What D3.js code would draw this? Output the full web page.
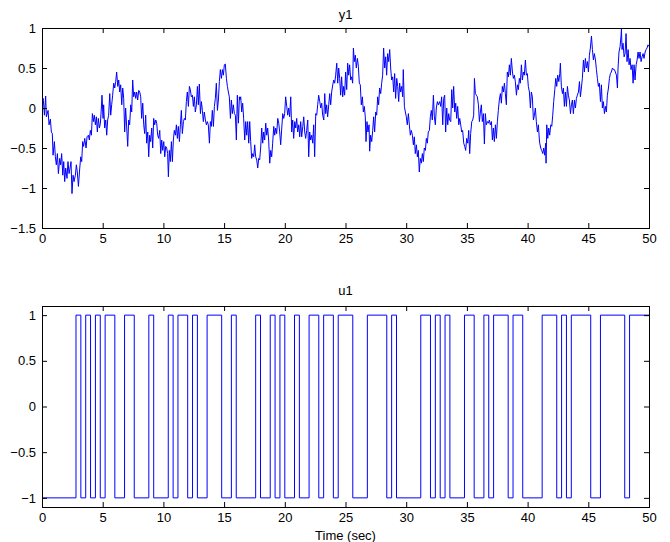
<!DOCTYPE html>
<html>
<head>
<meta charset="utf-8">
<script src="https://cdn.jsdelivr.net/npm/d3@7"></script>
<style>
	body { margin: 0; background: #fff; }
	svg text { font-family: "Liberation Sans", Arial, Helvetica, sans-serif; font-size: 13px; fill: #000; }
</style>
</head>
<body>
<div id="app"></div>
<script>
// tick labels
const timeTicks = [0, 5, 10, 15, 20, 25, 30, 35, 40, 45, 50];
const y1Ticks = [1, 0.5, 0, -0.5, -1, -1.5];
const u1Ticks = [1, 0.5, 0, -0.5, -1];

// u1 : level at t = 0, then the times where it flips
const u1Start = -1;
const u1Switch = [2.8, 3.2, 3.6, 4.0, 4.4, 4.8, 5.2, 6.0, 6.8, 7.6, 8.8, 9.2, 10.4, 10.8, 11.2, 12.0, 12.4, 12.8,
	13.6, 14.8, 15.6, 16.0, 17.6, 18.0, 18.8, 19.2, 19.6, 20.0, 20.8, 21.2, 22.0, 22.8, 23.2, 24.0, 24.4, 25.6,
	26.8, 28.4, 28.8, 29.2, 31.2, 32.0, 32.4, 32.8, 33.2, 33.6, 34.8, 35.6, 36.4, 36.8, 37.2, 38.4, 38.8, 39.6,
	41.2, 42.4, 42.8, 43.2, 43.6, 45.2, 46.0, 48.0, 48.4];

// y1 : [time, value]
const y1 = [
	[0.00, 0.08], [0.10, 0.12], [0.20, -0.09], [0.30, 0.15], [0.36, -0.11], [0.50, -0.03], [0.58, -0.21], [0.69, -0.14],
	[0.77, -0.30], [0.85, -0.32], [0.91, -0.59], [1.02, -0.42], [1.10, -0.61], [1.18, -0.71], [1.27, -0.57], [1.35, -0.82],
	[1.46, -0.63], [1.54, -0.71], [1.62, -0.57], [1.71, -0.84], [1.79, -0.67], [1.87, -0.92], [1.95, -0.75], [2.06, -0.88],
	[2.14, -0.67], [2.23, -0.82], [2.31, -0.75], [2.39, -0.67], [2.47, -1.07], [2.56, -0.84], [2.64, -0.92], [2.75, -0.84],
	[2.83, -0.71], [2.91, -0.80], [3.00, -0.98], [3.11, -0.75], [3.19, -0.61], [3.27, -0.67], [3.35, -0.42], [3.43, -0.48],
	[3.52, -0.38], [3.63, -0.50], [3.71, -0.36], [3.82, -0.34], [3.90, -0.40], [3.98, -0.28], [4.07, -0.34], [4.15, -0.07],
	[4.23, -0.17], [4.31, -0.09], [4.40, -0.21], [4.48, -0.11], [4.56, -0.30], [4.64, -0.13], [4.73, -0.25], [4.81, -0.19],
	[4.89, 0.00], [4.94, 0.16], [5.03, -0.13], [5.08, 0.04], [5.16, -0.25], [5.25, -0.15], [5.33, -0.34], [5.41, -0.15],
	[5.49, -0.09], [5.58, 0.18], [5.66, -0.09], [5.74, 0.04], [5.82, 0.16], [5.91, 0.31], [5.99, 0.25], [6.07, 0.33],
	[6.15, 0.45], [6.24, 0.27], [6.32, 0.35], [6.40, 0.20], [6.48, 0.29], [6.57, 0.04], [6.65, 0.25], [6.73, 0.12],
	[6.81, -0.30], [6.89, 0.00], [6.98, -0.25], [7.06, -0.48], [7.14, -0.15], [7.22, -0.21], [7.31, 0.04], [7.39, -0.05],
	[7.47, 0.35], [7.55, 0.14], [7.64, 0.20], [7.72, 0.12], [7.80, 0.20], [7.88, 0.10], [7.97, 0.22],
	[8.05, 0.20], [8.13, 0.14], [8.21, -0.13], [8.30, 0.06], [8.38, -0.21], [8.46, -0.32], [8.54, -0.09], [8.62, -0.44],
	[8.71, -0.30], [8.79, -0.61], [8.87, -0.34], [8.95, -0.42], [9.04, -0.25], [9.12, -0.50], [9.20, -0.13], [9.28, -0.21],
	[9.37, -0.15], [9.45, -0.19], [9.53, -0.34], [9.61, -0.38], [9.70, -0.28], [9.78, -0.57], [9.86, -0.40], [9.94, -0.53],
	[10.03, -0.42], [10.11, -0.61], [10.19, -0.48], [10.27, -0.50], [10.35, -0.57], [10.41, -0.86], [10.49, -0.53], [10.57, -0.67],
	[10.66, -0.42], [10.74, -0.67], [10.82, -0.40], [10.90, -0.28], [10.99, -0.34], [11.07, -0.21], [11.15, -0.38], [11.23, -0.23],
	[11.32, -0.42], [11.40, -0.21], [11.48, -0.03], [11.56, -0.32], [11.65, -0.17], [11.73, -0.13], [11.81, -0.15], [11.89, 0.08],
	[11.97, 0.20], [12.06, 0.02], [12.14, 0.27], [12.22, 0.23], [12.30, 0.14], [12.39, 0.16], [12.47, 0.02], [12.55, 0.14],
	[12.63, -0.05], [12.72, 0.04], [12.80, 0.27], [12.88, 0.04], [12.96, 0.30], [13.05, -0.07], [13.13, 0.08], [13.21, -0.03],
	[13.29, -0.17], [13.37, -0.05], [13.46, -0.15], [13.54, -0.21], [13.62, -0.17], [13.70, -0.21], [13.79, -0.44], [13.87, -0.17],
	[13.95, -0.23], [14.03, -0.03], [14.12, -0.23], [14.20, 0.02], [14.28, 0.12], [14.36, 0.31], [14.45, -0.03], [14.53, 0.10],
	[14.61, 0.33], [14.69, 0.48], [14.78, 0.37], [14.86, 0.48], [14.94, 0.41], [15.02, 0.54], [15.10, 0.55], [15.19, 0.37],
	[15.27, 0.27], [15.35, 0.20], [15.43, 0.14], [15.52, -0.13], [15.60, 0.10], [15.68, -0.07], [15.76, 0.04], [15.85, -0.07],
	[15.93, -0.09], [16.01, -0.40], [16.09, 0.16], [16.18, -0.19], [16.26, 0.14],
	[16.29, 0.10], [16.37, 0.14], [16.45, -0.05], [16.53, 0.06], [16.61, -0.13], [16.70, -0.40], [16.78, -0.17], [16.86, -0.34],
	[16.94, -0.17], [17.03, -0.44], [17.11, -0.17], [17.19, -0.42], [17.27, -0.63], [17.36, -0.57], [17.44, -0.61], [17.52, -0.46],
	[17.60, -0.61], [17.69, -0.65], [17.77, -0.75], [17.85, -0.63], [17.93, -0.65], [18.01, -0.50], [18.10, -0.25], [18.18, -0.44],
	[18.26, -0.30], [18.34, -0.40], [18.43, -0.19], [18.51, -0.34], [18.59, -0.25], [18.67, -0.40], [18.76, -0.69], [18.84, -0.53],
	[18.92, -0.61], [19.00, -0.44], [19.09, -0.23], [19.17, -0.34], [19.25, -0.25], [19.33, -0.32], [19.42, -0.13], [19.50, -0.19],
	[19.58, -0.30], [19.66, -0.46], [19.75, -0.25], [19.83, -0.07], [19.91, -0.13], [19.99, -0.07], [20.07, 0.14], [20.16, 0.02],
	[20.24, -0.09], [20.32, 0.00], [20.40, -0.11], [20.49, 0.14], [20.57, -0.30], [20.65, -0.15], [20.73, -0.38], [20.82, -0.17],
	[20.90, -0.25], [20.98, -0.13], [21.06, -0.30], [21.15, -0.21], [21.23, -0.36], [21.31, -0.17], [21.39, -0.36], [21.48, -0.23],
	[21.56, -0.11], [21.64, -0.30], [21.72, -0.38], [21.80, -0.28], [21.89, -0.15], [21.97, -0.61], [22.05, -0.30], [22.13, -0.40],
	[22.22, -0.34], [22.30, -0.44], [22.38, -0.21], [22.46, -0.61], [22.55, -0.07], [22.63, -0.09], [22.71, 0.04], [22.79, 0.16],
	[22.88, 0.08], [22.96, 0.00], [23.04, 0.06], [23.12, -0.09], [23.21, -0.15], [23.29, 0.18], [23.37, -0.07], [23.45, 0.04],
	[23.53, -0.11], [23.62, 0.04], [23.70, 0.18], [23.78, 0.04], [23.86, 0.20], [23.95, 0.29], [24.03, 0.35], [24.11, 0.31],
	[24.19, 0.41], [24.28, 0.56], [24.36, 0.31], [24.44, 0.50],
	[24.52, 0.37], [24.60, 0.16], [24.68, 0.39], [24.77, 0.14], [24.85, 0.27], [24.93, 0.16], [25.01, 0.45], [25.10, 0.23],
	[25.18, 0.56], [25.26, 0.41], [25.34, 0.54], [25.43, 0.35], [25.51, 0.39], [25.59, 0.31], [25.65, 0.75], [25.73, 0.58],
	[25.81, 0.66], [25.89, 0.50], [25.98, 0.62], [26.06, 0.52], [26.14, 0.31], [26.22, 0.29], [26.30, 0.04], [26.39, 0.14],
	[26.47, -0.05], [26.55, 0.02], [26.63, -0.11], [26.69, -0.42], [26.77, -0.17], [26.85, -0.30], [26.94, -0.21], [26.99, -0.54],
	[27.07, -0.34], [27.16, -0.42], [27.24, -0.28], [27.32, -0.11], [27.40, -0.30], [27.49, -0.05], [27.57, -0.09], [27.65, 0.14],
	[27.73, 0.04], [27.81, 0.25], [27.90, 0.18], [27.98, 0.31], [28.06, 0.41], [28.14, 0.75], [28.23, 0.50], [28.31, 0.64],
	[28.39, 0.41], [28.47, 0.68], [28.56, 0.58], [28.64, 0.73], [28.72, 0.50], [28.80, 0.35], [28.89, 0.39], [28.97, 0.20],
	[29.05, 0.43], [29.13, 0.12], [29.22, 0.37], [29.30, 0.27], [29.38, 0.08], [29.46, 0.31], [29.54, 0.20], [29.63, 0.27],
	[29.71, 0.14], [29.76, 0.48], [29.85, 0.02], [29.93, -0.05], [30.01, -0.11], [30.09, -0.21], [30.18, -0.07], [30.26, -0.21],
	[30.34, -0.34], [30.42, -0.28], [30.51, -0.34], [30.59, -0.46], [30.67, -0.36], [30.75, -0.57], [30.84, -0.46], [30.92, -0.61],
	[31.00, -0.53], [31.08, -0.80], [31.16, -0.63], [31.25, -0.69], [31.33, -0.57], [31.41, -0.67], [31.49, -0.50], [31.58, -0.53],
	[31.66, -0.38], [31.74, -0.44], [31.82, -0.30], [31.91, -0.28], [31.99, -0.11], [32.07, -0.03], [32.15, -0.15], [32.24, 0.16],
	[32.32, -0.11], [32.40, -0.21], [32.48, 0.00], [32.57, 0.08], [32.65, 0.04],
	[32.76, 0.08], [32.84, 0.02], [32.92, 0.14], [33.01, -0.21], [33.09, 0.12], [33.17, 0.16], [33.25, -0.30], [33.34, 0.00],
	[33.42, -0.21], [33.50, -0.07], [33.58, -0.15], [33.67, -0.17], [33.75, 0.23], [33.83, 0.00], [33.91, 0.27], [34.00, -0.05],
	[34.08, 0.06], [34.16, -0.13], [34.24, 0.02], [34.33, -0.21], [34.41, -0.13], [34.49, -0.21], [34.57, -0.30], [34.65, -0.28],
	[34.74, -0.44], [34.82, -0.48], [34.90, -0.53], [34.98, -0.38], [35.07, -0.44], [35.15, -0.28], [35.23, -0.57], [35.31, -0.32],
	[35.40, -0.17], [35.48, -0.15], [35.56, -0.09], [35.62, 0.37], [35.70, 0.18], [35.78, 0.16], [35.86, 0.14], [35.95, 0.04],
	[36.03, -0.17], [36.11, -0.05], [36.19, 0.04], [36.27, -0.17], [36.36, -0.07], [36.44, -0.45], [36.52, -0.07], [36.60, -0.21],
	[36.69, -0.17], [36.77, -0.19], [36.85, -0.15], [36.93, -0.21], [37.02, -0.17], [37.10, -0.40], [37.18, -0.25], [37.26, -0.42],
	[37.35, -0.21], [37.43, -0.38], [37.51, -0.17], [37.59, -0.03], [37.67, 0.10], [37.76, 0.18], [37.84, 0.06], [37.92, 0.27],
	[38.00, 0.20], [38.09, 0.31], [38.17, 0.18], [38.25, 0.04], [38.33, 0.45], [38.42, 0.39], [38.50, 0.54], [38.58, 0.41],
	[38.66, 0.62], [38.75, 0.45], [38.83, 0.37], [38.91, 0.41], [38.99, 0.33], [39.08, 0.16], [39.16, 0.29], [39.24, 0.23],
	[39.32, 0.37], [39.40, 0.31], [39.49, 0.54], [39.57, 0.35], [39.65, 0.45], [39.73, 0.41], [39.82, 0.60], [39.90, 0.41],
	[39.98, 0.43], [40.06, 0.27], [40.15, 0.20], [40.23, 0.00], [40.31, 0.20], [40.39, 0.14], [40.48, -0.15], [40.56, -0.09],
	[40.64, 0.00], [40.72, -0.17], [40.81, -0.30], [40.89, -0.21], [40.97, -0.40],
	[41.00, -0.44], [41.08, -0.50], [41.16, -0.53], [41.25, -0.57], [41.33, -0.50], [41.41, -0.59], [41.49, -0.44], [41.52, -0.69],
	[41.58, -0.21], [41.66, -0.38], [41.74, -0.25], [41.82, -0.34], [41.91, -0.21], [41.99, -0.23], [42.07, -0.09], [42.15, 0.08],
	[42.24, 0.23], [42.32, 0.37], [42.40, 0.27], [42.48, 0.41], [42.57, 0.33], [42.65, 0.43], [42.70, 0.56], [42.78, 0.27],
	[42.87, 0.18], [42.95, 0.25], [43.03, 0.02], [43.11, 0.20], [43.20, 0.02], [43.28, 0.27], [43.36, 0.16], [43.44, 0.10],
	[43.53, -0.07], [43.61, 0.04], [43.69, 0.10], [43.77, -0.07], [43.86, 0.10], [43.94, 0.00], [44.02, 0.12], [44.10, 0.16],
	[44.19, 0.20], [44.27, 0.33], [44.35, 0.14], [44.43, 0.25], [44.51, 0.37], [44.60, 0.60], [44.68, 0.45], [44.76, 0.62],
	[44.84, 0.50], [44.93, 0.58], [45.01, 0.45], [45.09, 0.66], [45.17, 0.75], [45.26, 0.90], [45.34, 0.73], [45.42, 0.60],
	[45.50, 0.68], [45.59, 0.60], [45.67, 0.48], [45.75, 0.37], [45.83, 0.27], [45.91, 0.31], [46.00, 0.08], [46.08, 0.29],
	[46.16, 0.00], [46.24, 0.08], [46.33, -0.07], [46.41, 0.02], [46.49, -0.05], [46.57, 0.16], [46.66, 0.25], [46.74, 0.37],
	[46.82, 0.43], [46.90, 0.45], [46.99, 0.50], [47.07, 0.48], [47.15, 0.48], [47.23, 0.45], [47.32, 0.41], [47.40, 0.25],
	[47.45, 0.50], [47.53, 0.70], [47.62, 0.77], [47.70, 0.91], [47.73, 0.99], [47.78, 0.73], [47.86, 0.81], [47.95, 0.64],
	[48.03, 0.68], [48.11, 0.93], [48.19, 0.58], [48.28, 0.73], [48.36, 0.54], [48.44, 0.62], [48.52, 0.48], [48.61, 0.54],
	[48.69, 0.31], [48.77, 0.54], [48.85, 0.35], [48.94, 0.54], [49.02, 0.60], [49.10, 0.70], [49.18, 0.62], [49.26, 0.70],
	[49.35, 0.58], [49.43, 0.64], [49.51, 0.68], [49.59, 0.62], [49.68, 0.70], [49.76, 0.73], [49.84, 0.75], [49.92, 0.79],
	[49.98, 0.77]
];

const config = {
	width: 670,
	height: 542,
	left: 42,
	right: 649,
	tick: 5,
	lineColor: "#0000ff",
	panels: {
		y1: { top: 28, bottom: 228, titleY: 18.5 },
		u1: { top: 306, bottom: 507, titleY: 295 }
	},
	xLabelY: 539.5
};

const fmt = d => d < 0 ? "\u2212" + Math.abs(d) : String(d);

const svg = d3.select("#app").append("svg")
	.attr("width", config.width)
	.attr("height", config.height);

const x = d3.scaleLinear().domain([0, 50]).range([config.left, config.right]);

function drawPanel(name, box, yDomain, yTicks, points, curve) {
	const y = d3.scaleLinear().domain(yDomain).range([box.bottom, box.top]);
	const g = svg.append("g").attr("class", "panel-" + name);

	g.append("clipPath").attr("id", "clip-" + name)
		.append("rect")
		.attr("x", config.left).attr("y", box.top)
		.attr("width", config.right - config.left).attr("height", box.bottom - box.top);

	const line = d3.line().x(d => x(d[0])).y(d => y(d[1])).curve(curve);

	g.append("path")
		.datum(points)
		.attr("clip-path", "url(#clip-" + name + ")")
		.attr("fill", "none")
		.attr("stroke", config.lineColor)
		.attr("stroke-width", 1)
		.attr("stroke-linejoin", "round")
		.attr("d", line);

	// ticks point inward on all four sides
	const axes = [
		[d3.axisBottom(x).tickValues(timeTicks).tickFormat(fmt).tickPadding(6), box.bottom, 0],
		[d3.axisTop(x).tickValues(timeTicks).tickFormat(""), box.top, 0],
		[d3.axisLeft(y).tickValues(yTicks).tickFormat(fmt).tickPadding(6), 0, config.left],
		[d3.axisRight(y).tickValues(yTicks).tickFormat(""), 0, config.right]
	];
	axes.forEach(([axis, ty, tx]) => {
		const a = g.append("g")
			.attr("transform", "translate(" + tx + "," + ty + ")")
			.call(axis.tickSize(-config.tick).tickSizeOuter(0));
		a.select(".domain").remove();
		a.selectAll("line").attr("stroke", "#000");
		a.selectAll("text").attr("font-size", null).attr("font-family", null).attr("fill", "#000");
	});

	g.append("rect")
		.attr("x", config.left + 0.5).attr("y", box.top + 0.5)
		.attr("width", config.right - config.left).attr("height", box.bottom - box.top)
		.attr("fill", "none")
		.attr("stroke", "#000")
		.attr("stroke-width", 1);

	g.append("text")
		.attr("x", (config.left + config.right) / 2)
		.attr("y", box.titleY)
		.attr("text-anchor", "middle")
		.text(name);
}

drawPanel("y1", config.panels.y1, [-1.5, 1], y1Ticks, y1, d3.curveLinear);

const u1Points = [[0, u1Start]];
let level = u1Start;
u1Switch.forEach(t => {
	level = -level;
	u1Points.push([t, level]);
});
u1Points.push([50, level]);

drawPanel("u1", config.panels.u1, [-1.1, 1.1], u1Ticks, u1Points, d3.curveStepAfter);

svg.append("text")
	.attr("x", (config.left + config.right) / 2)
	.attr("y", config.xLabelY)
	.attr("text-anchor", "middle")
	.text("Time (sec)");
</script>
</body>
</html>
